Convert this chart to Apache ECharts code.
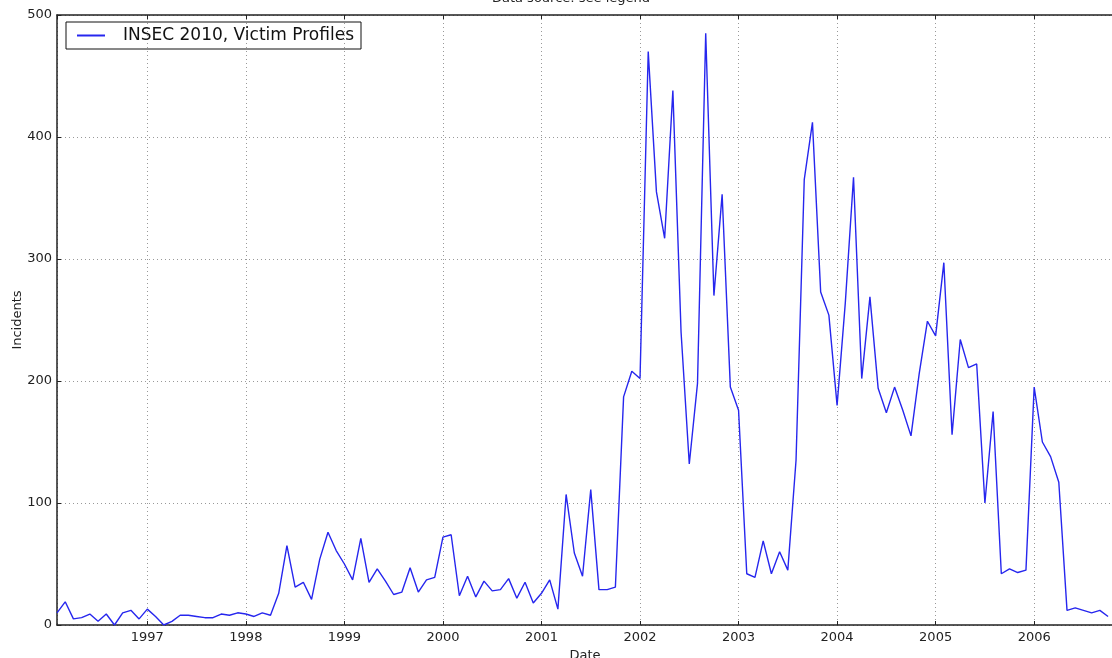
<!DOCTYPE html>
<html>
<head>
<meta charset="utf-8">
<title>INSEC 2010, Victim Profiles</title>
<script src="https://cdn.jsdelivr.net/npm/echarts@6/dist/echarts.min.js"></script>
<style>
    html, body { margin: 0; padding: 0; background: #fff; }
    #main { width: 1112px; height: 658px; }
</style>
</head>
<body>
<div id="main"></div>
<script>
var seriesName = 'INSEC 2010, Victim Profiles';
var chartTitle = 'Data source: see legend';
var xName = 'Date';
var yName = 'Incidents';

// monthly incident counts, one array per year (1996 starts in February, 2006 ends in October)
var y1996 = [10, 19, 5, 6, 9, 3, 9, 0, 10, 12, 5];
var y1997 = [13, 7, 0, 3, 8, 8, 7, 6, 6, 9, 8, 10];
var y1998 = [9, 7, 10, 8, 26, 65, 31, 35, 21, 54, 76, 61];
var y1999 = [50, 37, 71, 35, 46, 36, 25, 27, 47, 27, 37, 39];
var y2000 = [72, 74, 24, 40, 23, 36, 28, 29, 38, 22, 35, 18];
var y2001 = [26, 37, 13, 107, 59, 40, 111, 29, 29, 31, 187, 208];
var y2002 = [202, 470, 355, 317, 438, 240, 132, 198, 485, 270, 353, 195];
var y2003 = [176, 42, 39, 69, 42, 60, 45, 135, 365, 412, 273, 254];
var y2004 = [180, 264, 367, 202, 269, 194, 174, 195, 176, 155, 206, 249];
var y2005 = [237, 297, 156, 234, 211, 214, 100, 175, 42, 46, 43, 45];
var y2006 = [195, 150, 138, 117, 12, 14, 12, 10, 12, 7];

var yTicks = [0, 100, 200, 300, 400, 500];

var victimChart = (function () {
    var Return = {
        init: function () {
            initChart();
        }
    }
    var buildPoints = function () {
        // [year, first month, values]
        var rows = [
            [1996, 2, y1996], [1997, 1, y1997], [1998, 1, y1998], [1999, 1, y1999],
            [2000, 1, y2000], [2001, 1, y2001], [2002, 1, y2002], [2003, 1, y2003],
            [2004, 1, y2004], [2005, 1, y2005], [2006, 1, y2006]
        ];
        var pts = [];
        rows.forEach(function (r) {
            r[2].forEach(function (v, i) {
                pts.push([r[0] + (r[1] - 1 + i) / 12, v]);
            });
        });
        return pts;
    }
    var initChart = function () {
        var myChart = echarts.init(document.getElementById('main'));
        var font = 'DejaVu Sans';
        var spine = { lineStyle: { color: '#222', width: 1.5 } };
        var grid = { lineStyle: { color: '#999', width: 1, type: [1, 3] } };
        var option = {
            animation: false,
            textStyle: { fontFamily: font },
            graphic: [{
                type: 'text',
                x: 571,
                y: 5,
                style: {
                    text: chartTitle,
                    font: '13px "DejaVu Sans"',
                    fill: '#222',
                    textAlign: 'center',
                    textVerticalAlign: 'bottom'
                }
            }],
            legend: {
                left: 66,
                top: 22,
                padding: [5, 7, 5, 11],
                borderColor: '#111',
                borderWidth: 1,
                itemWidth: 28,
                itemHeight: 2,
                textStyle: { fontSize: 17, color: '#111', fontFamily: font, padding: [0, 0, 0, 13] },
                data: [{ name: seriesName, icon: 'rect' }]
            },
            grid: {
                left: 57,
                right: -1,
                top: 15,
                bottom: 33,
                outerBoundsMode: 'none'
            },
            xAxis: [{
                type: 'value',
                min: 1996 + 1 / 12,
                max: 2006.8,
                minInterval: 1,
                maxInterval: 1,
                splitNumber: 10,
                name: xName,
                nameLocation: 'middle',
                nameGap: 24,
                nameMoveOverlap: false,
                nameTextStyle: { fontSize: 13, color: '#222', fontFamily: font },
                axisLine: spine,
                axisTick: { inside: true, length: 4, lineStyle: { color: '#222' } },
                axisLabel: {
                    fontSize: 13,
                    color: '#222',
                    margin: 6,
                    showMinLabel: false,
                    showMaxLabel: false,
                    formatter: function (v) { return Math.abs(v - Math.round(v)) < 1e-6 ? String(Math.round(v)) : ''; }
                },
                splitLine: grid
            }, {
                type: 'value',
                position: 'top',
                min: 1996 + 1 / 12,
                max: 2006.8,
                minInterval: 1,
                maxInterval: 1,
                splitNumber: 10,
                axisLine: spine,
                axisTick: { inside: true, length: 4, lineStyle: { color: '#222' } },
                axisLabel: { show: false },
                splitLine: { show: false }
            }],
            yAxis: {
                type: 'value',
                min: yTicks[0],
                max: yTicks[yTicks.length - 1],
                interval: 100,
                name: yName,
                nameLocation: 'middle',
                nameGap: 33,
                nameMoveOverlap: false,
                nameTextStyle: { fontSize: 13, color: '#222', fontFamily: font },
                axisLine: spine,
                axisTick: { inside: true, length: 4, lineStyle: { color: '#222' } },
                axisLabel: { fontSize: 13, color: '#222', margin: 5 },
                splitLine: grid
            },
            series: [{
                name: seriesName,
                type: 'line',
                xAxisIndex: 0,
                symbol: 'none',
                data: buildPoints(),
                itemStyle: { color: '#2626ee' },
                lineStyle: { color: '#2626ee', width: 1.4 }
            }]
        };
        myChart.setOption(option);
    }
    return Return;
})();

; (function () {
    victimChart.init();
})();
</script>
</body>
</html>
